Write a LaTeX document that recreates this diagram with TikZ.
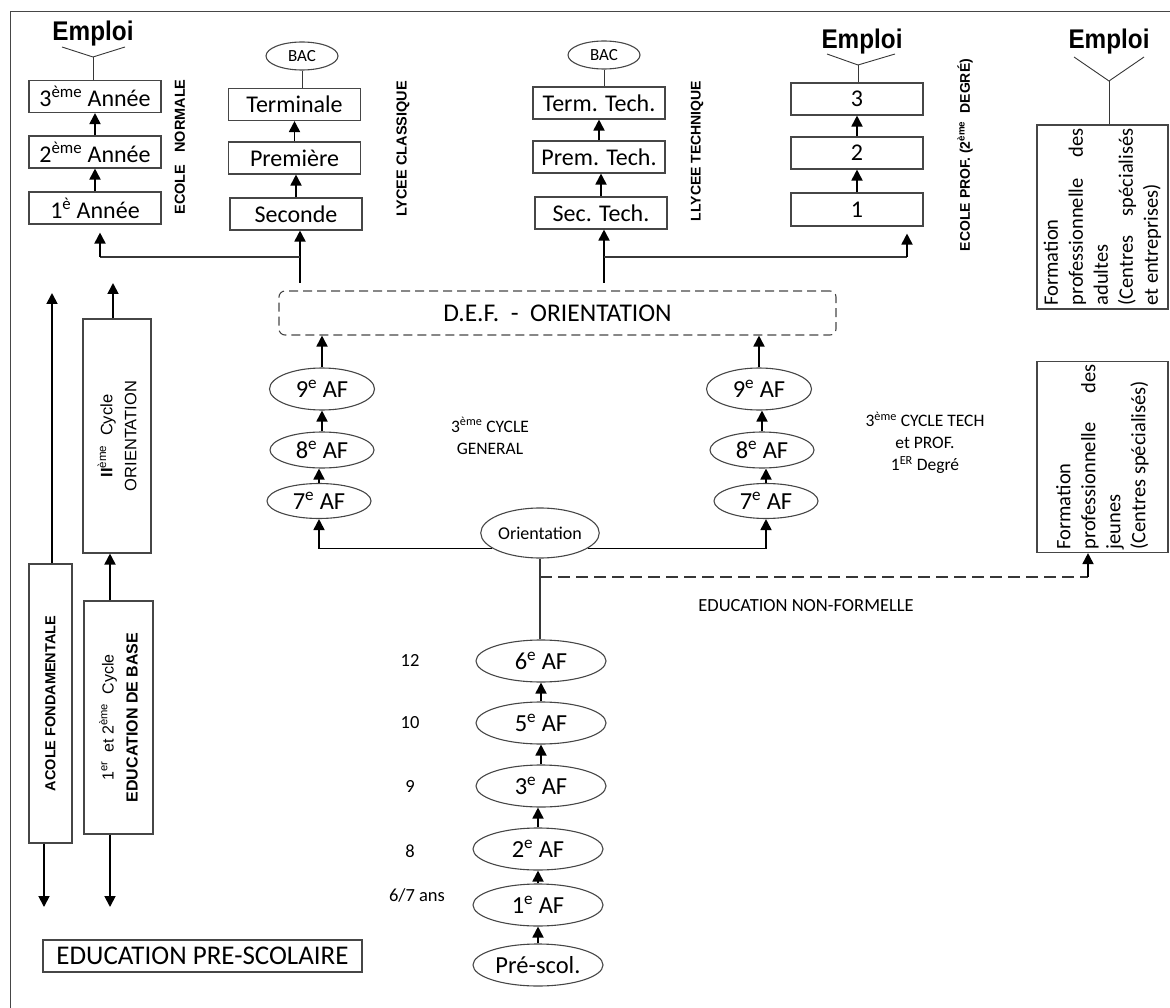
\documentclass[tikz,border=0pt]{standalone}
\usepackage{fontspec}
\usepackage{graphicx}
\setmainfont{Carlito}
\newfontfamily\arialf{Liberation Sans}
\usetikzlibrary{arrows.meta,shapes.geometric}
\definecolor{boxc}{RGB}{70,70,70}
\definecolor{linec}{RGB}{55,55,55}
\newcommand\myfs[1]{\fontsize{#1}{#1}\selectfont}
\begin{document}
\begin{tikzpicture}[x=1pt,y=-1pt,
  bx/.style={draw=boxc, line width=1.1pt, minimum width=132pt, minimum height=32pt, inner sep=0pt, font=\myfs{24}},
  el/.style={ellipse, draw=boxc, line width=1.1pt, inner sep=0pt, font=\myfs{24.5}},
  arr/.style={line width=1.8pt, draw=black, -{Triangle[width=11pt,length=11pt]}},
  ln/.style={line width=1.4pt, draw=linec},
  thn/.style={line width=0.9pt, draw=linec},
  vlab/.style={rotate=90, font=\arialf\bfseries\myfs{14.5}},
  emp/.style={font=\arialf\bfseries\myfs{27}},
  sm/.style={font=\fontsize{17.5}{22}\selectfont, align=center},
  age/.style={font=\myfs{18.5}},
  vbox/.style={draw=boxc, line width=1.1pt, rotate=90, inner sep=0pt},
  fbox/.style={draw=boxc, line width=1.1pt, rotate=90, inner xsep=3pt, inner ysep=0pt, align=justify, font=\fontsize{20.5}{25}\selectfont},
]
\useasboundingbox (0,0) rectangle (1170,1008);
% frame
\coordinate (fr1) at (10,1008); \coordinate (fr2) at (10,12); \coordinate (fr3) at (1170,12);
\draw[line width=1pt, boxc] (fr1) -- (fr2) -- (fr3);

% ---- Ecole normale
\node[emp] (emp1) at (93,34) {\scalebox{0.9}[1]{Emploi}};
\coordinate (v1) at (93,57); \coordinate (v1l) at (62,47); \coordinate (v1r) at (125,47);
\node[bx] (a3) at (95,96.5) {3\textsuperscript{ème} Année};
\node[bx] (a2) at (95,152) {2\textsuperscript{ème} Année};
\node[bx] (a1) at (95,208) {1\textsuperscript{è} Année};
\draw[thn] (v1l) -- (v1) -- (v1r);
\draw[thn] (v1) -- (v1 |- a3.north);
\draw[arr] (a1.north) -- (a2.south);
\draw[arr] (a2.north) -- (a3.south);
\node[vlab] (len) at (180,147) {ECOLE\ \ \ NORMALE};

% ---- Lycee classique
\node[el, minimum width=72pt, minimum height=28pt, font=\myfs{17}] (bac1) at (302,56) {BAC};
\node[bx] (term) at (294.5,104.5) {Terminale};
\node[bx] (prem) at (294.5,158) {Première};
\node[bx] (sec) at (296,214) {Seconde};
\draw[thn] (bac1.south) -- (bac1.south |- term.north);
\draw[arr] (prem.north) -- (term.south);
\draw[arr] (sec.north) -- (sec.north |- prem.south);
\node[vlab] (llc) at (403,149) {LYCEE CLASSIQUE};

% ---- Lycee technique
\node[el, minimum width=72pt, minimum height=28pt, font=\myfs{17}] (bac2) at (604,55) {BAC};
\node[bx] (tt) at (599,103) {Term. Tech.};
\node[bx] (ptc) at (599,157) {Prem. Tech.};
\node[bx] (stc) at (601,213) {Sec. Tech.};
\draw[thn] (bac2.south) -- (bac2.south |- tt.north);
\draw[arr] (ptc.north) -- (tt.south);
\draw[arr] (stc.north) -- (stc.north |- ptc.south);
\node[vlab, font=\arialf\bfseries\myfs{14}] (llt) at (697,151) {LLYCEE TECHNIQUE};

% ---- Ecole prof
\node[emp] (emp2) at (862,42) {\scalebox{0.9}[1]{Emploi}};
\coordinate (v2) at (858,65); \coordinate (v2l) at (827,54); \coordinate (v2r) at (895,54);
\node[bx] (b3) at (857,99) {3};
\node[bx] (b2) at (857,153) {2};
\node[bx, minimum height=33pt] (b1) at (857,209.5) {1};
\draw[thn] (v2l) -- (v2) -- (v2r);
\draw[thn] (v2) -- (v2 |- b3.north);
\draw[arr] (b1.north) -- (b2.south);
\draw[arr] (b2.north) -- (b3.south);
\node[vlab, font=\arialf\bfseries\myfs{14}] (lep) at (965,155) {ECOLE PROF. (2\textsuperscript{ème}\ \ DEGRÉ)};

% ---- right column
\node[emp] (emp3) at (1109,42) {\scalebox{0.9}[1]{Emploi}};
\coordinate (v3) at (1109,81); \coordinate (v3l) at (1074,57); \coordinate (v3r) at (1144,57);
\node[fbox, minimum width=184pt, minimum height=131pt, text width=177pt] (fa) at (1102.5,217)
  {\noindent Formation\newline professionnelle des\linebreak adultes\newline (Centres spécialisés\linebreak et entreprises)};
\draw[thn] (v3l) -- (v3) -- (v3r);
\draw[thn] (v3) -- (v3 |- fa.east);
\node[fbox, minimum width=190pt, minimum height=131pt, text width=185pt] (fj) at (1102.5,457)
  {\noindent Formation\newline professionnelle des\linebreak jeunes\newline (Centres spécialisés)};

% ---- DEF
\node[draw=boxc, line width=1.1pt, dash pattern=on 9pt off 5pt, rounded corners=6pt, minimum width=557pt, minimum height=44pt, font=\myfs{25.5}] (def) at (557.5,313) {D.E.F.\ \ -\ \ ORIENTATION};

\coordinate (tl) at (300,283); \coordinate (jl) at (300,257); \coordinate (jl2) at (100,257);
\draw[arr] (tl) -- (tl |- sec.south);
\draw[ln] (jl) -- (jl2);
\draw[arr, shorten >=8pt] (jl2) -- (jl2 |- a1.south);
\coordinate (tr) at (604,283); \coordinate (jr) at (604,257); \coordinate (jr2) at (907,257);
\draw[arr] (tr) -- (tr |- stc.south);
\draw[ln] (jr) -- (jr2);
\draw[arr, shorten >=7pt] (jr2) -- (jr2 |- b1.south);

% ---- 3e cycle ellipses
\node[el, minimum width=105pt, minimum height=42pt] (l9) at (322,389) {9\textsuperscript{e} AF};
\node[el, minimum width=104pt, minimum height=36pt] (l8) at (322,450) {8\textsuperscript{e} AF};
\node[el, minimum width=104pt, minimum height=35pt] (l7) at (319,501) {7\textsuperscript{e} AF};
\node[el, minimum width=105pt, minimum height=42pt] (r9) at (759,389) {9\textsuperscript{e} AF};
\node[el, minimum width=104pt, minimum height=36pt] (r8) at (762,450) {8\textsuperscript{e} AF};
\node[el, minimum width=104pt, minimum height=35pt] (r7) at (766,501) {7\textsuperscript{e} AF};
\draw[arr] (l9.north) -- (l9.north |- def.south);
\draw[arr] (l8.north) -- (l8.north |- l9.south);
\draw[arr] (l7.north) -- (l7.north |- l8.south);
\draw[arr] (r9.north) -- (r9.north |- def.south);
\draw[arr] (r8.north) -- (r8.north |- r9.south);
\draw[arr] (r7.north) -- (r7.north |- r8.south);

% ---- Orientation
\node[el, minimum width=118pt, minimum height=50pt, font=\myfs{18}] (or) at (540,533) {Orientation};
\draw[arr] (or.198) -| (l7.south);
\draw[arr] (or.342) -| (r7.south);

% ---- bottom column
\node[el, minimum width=130pt, minimum height=42pt] (c6) at (541,661) {6\textsuperscript{e} AF};
\node[el, minimum width=130pt, minimum height=42pt] (c5) at (541,723) {5\textsuperscript{e} AF};
\node[el, minimum width=130pt, minimum height=42pt] (c3) at (541,786) {3\textsuperscript{e} AF};
\node[el, minimum width=130pt, minimum height=42pt] (c2) at (538,849) {2\textsuperscript{e} AF};
\node[el, minimum width=130pt, minimum height=42pt] (c1) at (538,905) {1\textsuperscript{e} AF};
\node[el, minimum width=130pt, minimum height=42pt] (c0) at (538,965) {Pré-scol.};
\draw[arr] (c0.north) -- (c0.north |- c1.south);
\draw[arr] (c1.north) -- (c1.north |- c2.south);
\draw[arr] (c2.north) -- (c2.north |- c3.south);
\draw[arr] (c3.north) -- (c3.north |- c5.south);
\draw[arr] (c5.north) -- (c5.north |- c6.south);
\draw[ln] (or.south) -- (or.south |- c6.north);
\coordinate (dj) at (540,577); \coordinate (dk) at (1088,577);
\draw[ln, dash pattern=on 12pt off 6pt] (dj) -- (dk);
\draw[arr] (dk) -- (dk |- fj.west);

% ---- labels
\node[sm] (g3) at (490,436) {3\textsuperscript{ème} CYCLE\\GENERAL};
\node[sm] (t3) at (925,443) {3\textsuperscript{ème} CYCLE TECH\\et PROF.\\1\textsuperscript{ER} Degré};
\node[font=\myfs{18.5}] (enf) at (806,606) {EDUCATION NON-FORMELLE};
\node[age] (ag12) at (410,660) {12};
\node[age] (ag10) at (410,723) {10};
\node[age] (ag9) at (410,786) {9};
\node[age] (ag8) at (410,851) {8};
\node[age] (ag6) at (417,895) {6/7 ans};

% ---- left vertical boxes
\node[vbox, minimum width=279pt, minimum height=43pt, font=\arialf\bfseries\myfs{14.5}] (af) at (50.5,703.5) {ACOLE FONDAMENTALE};
\coordinate (afu) at (52,293); \coordinate (afd) at (44,907);
\draw[arr] (afu |- af.east) -- (afu);
\draw[arr] (afd |- af.west) -- (afd);
\node[vbox, minimum width=233pt, minimum height=69pt, align=center, font=\arialf\fontsize{16}{24}\selectfont] (eb) at (118.5,717.5) {1\textsuperscript{er}\ \ et 2\textsuperscript{ème}\ \ Cycle\\\textbf{EDUCATION DE BASE}};
\node[vbox, minimum width=234pt, minimum height=68pt, align=center, font=\arialf\fontsize{16.5}{24}\selectfont] (oc) at (117,436) {\textbf{II}\textsuperscript{ème}\ \ Cycle\\ORIENTATION};
\coordinate (ebd) at (110,907); \coordinate (ebx) at (110,0); \coordinate (ocu) at (113,283);
\draw[arr] (ebd |- eb.west) -- (ebd);
\draw[arr] (ebx |- eb.east) -- (ebx |- oc.west);
\draw[arr] (ocu |- oc.east) -- (ocu);

\node[bx, minimum width=319pt, font=\myfs{27}] (eps) at (202.5,956) {EDUCATION PRE-SCOLAIRE};
\end{tikzpicture}
\end{document}
